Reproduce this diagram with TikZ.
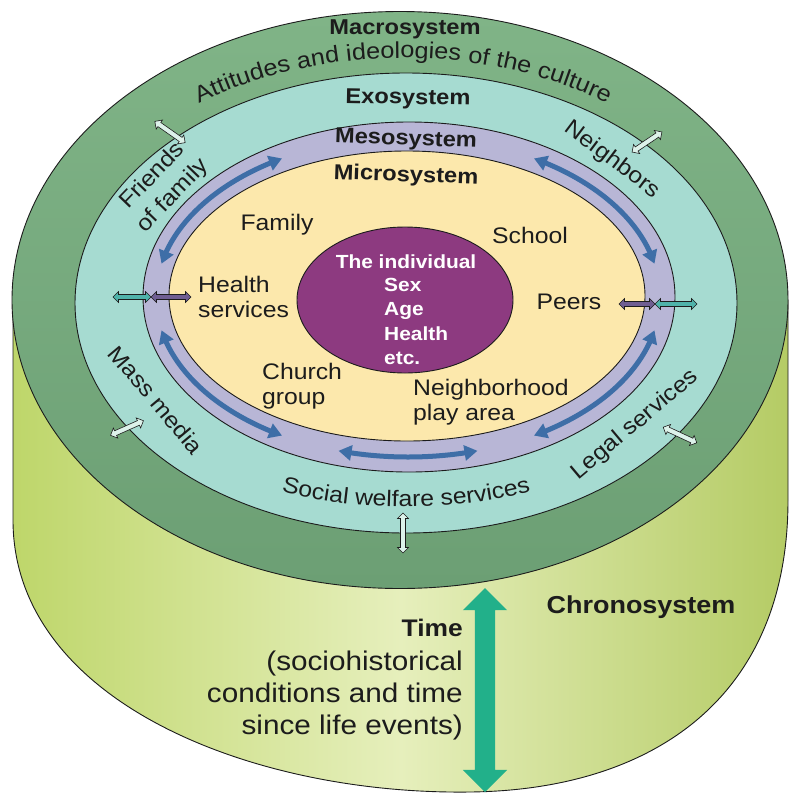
\documentclass[tikz,border=0pt]{standalone}
\usepackage{fontspec}
\setmainfont{Liberation Sans}[FakeStretch=1.1]
\usetikzlibrary{shapes.geometric,shapes.arrows,arrows.meta,bending,decorations.text,calc}

\definecolor{macrog}{HTML}{80B487}
\definecolor{macrod}{HTML}{6C9F74}
\definecolor{exoc}{HTML}{A6DBD1}
\definecolor{mesoc}{HTML}{B8B6D6}
\definecolor{microc}{HTML}{FCE8AC}
\definecolor{indiv}{HTML}{8D3A80}
\definecolor{limec}{HTML}{BED66A}
\definecolor{limel}{HTML}{E6EFBC}
\definecolor{mesoarrow}{HTML}{3E6EA7}
\definecolor{timearrow}{HTML}{22B08A}
\definecolor{inkc}{HTML}{1C1C1C}
\definecolor{tealarrow}{HTML}{4FB3AA}
\definecolor{purparrow}{HTML}{6F5E92}
\definecolor{palearrow}{HTML}{DDF2EA}

\newcommand{\RegLbl}{\fontsize{22.5}{24.5}\selectfont}
\newcommand{\ArcLbl}{\fontsize{23}{27}\selectfont}
\newcommand{\BoldLbl}{\fontsize{21.5}{25}\selectfont\bfseries}
\newcommand{\IndFont}{\fontsize{19}{24.3}\selectfont\bfseries}
\newcommand{\ChronoFont}{\fontsize{24.5}{29}\selectfont\bfseries}
\newcommand{\TimeFont}{\fontsize{27}{32}\selectfont}

\begin{document}
\begin{tikzpicture}[x=1pt,y=1pt,
  ring/.style={ellipse, draw=inkc, line width=0.9pt, inner sep=0pt, outer sep=0pt},
  lbl/.style={text=inkc, font=\RegLbl, inner sep=0pt},
  blbl/.style={text=inkc, font=\BoldLbl, inner sep=0pt},
  mesoarc/.style={draw=mesoarrow, line width=5pt,
     {Triangle[width=15pt,length=13pt]}-{Triangle[width=15pt,length=13pt]}},
  smallarrow/.style={double arrow, draw=inkc, line width=0.6pt, inner sep=2.2pt,
     double arrow head extend=3pt, minimum height=#1}
]
\useasboundingbox (0,0) rectangle (790,-793);

% cylinder body (chronosystem)
\shadedraw[left color=limec, right color=limec!95!black, middle color=limel, draw=inkc, line width=0.9pt]
  (13,-300) -- (13,-520) .. controls (13,-700) and (250,-795) .. (470,-792)
  .. controls (650,-790) and (788,-700) .. (788,-500) -- (788,-300) -- cycle;

% rings
\node[ring, top color=macrog, bottom color=macrod, minimum width=776pt, minimum height=577pt] (macro) at (400,-300) {};
\node[ring, fill=exoc, minimum width=662pt, minimum height=460pt] (exo) at (406,-303) {};
\node[ring, fill=mesoc, minimum width=532pt, minimum height=350pt] (meso) at (409,-297) {};
\node[ring, fill=microc, minimum width=476pt, minimum height=290pt] (micro) at (407,-296) {};
\node[ring, fill=indiv, minimum width=216pt, minimum height=146pt] (indiv) at (405,-300) {};

% mesosystem arrows
\coordinate (mc) at (408,-297);
\foreach \a/\b in {12/60, 120/168, 192/240, 254/286, 300/348}
  \draw[mesoarc] ($(mc)+(\a:252 and 160)$) arc[start angle=\a, end angle=\b, x radius=252pt, y radius=160pt];

% small double arrows
\node[smallarrow=38pt, fill=tealarrow] (hsA) at (132,-297) {};
\node[smallarrow=40pt, fill=purparrow] (hsB) at (171,-297) {};
\node[smallarrow=36pt, fill=purparrow] (peA) at (637,-304) {};
\node[smallarrow=42pt, fill=tealarrow] (peB) at (676,-304) {};
\node[smallarrow=37pt, fill=palearrow, rotate=-35] (ffA) at (170,-132) {};
\node[smallarrow=36pt, fill=palearrow, rotate=34] (nbA) at (647,-142) {};
\node[smallarrow=36pt, fill=palearrow, rotate=24] (mmA) at (127,-428) {};
\node[smallarrow=37pt, fill=palearrow, rotate=-25] (lsA) at (680,-435) {};
\node[smallarrow=40pt, fill=palearrow, rotate=90] (swA) at (403,-533) {};

% time arrow
\node[double arrow, fill=timearrow, inner sep=10pt, double arrow head extend=12pt,
      double arrow tip angle=90, minimum height=204pt, rotate=90] (timeA) at (485,-690) {};

% system titles
\node[blbl] (macroT) at (405,-29) {Macrosystem};
\coordinate (ac) at (403,-301);
\path[decorate, decoration={text along path, text align=center,
   text={|\ArcLbl\color{inkc}|Attitudes and ideologies of the culture}}]
   ($(ac)+(145:350 and 243)$) arc[start angle=145, end angle=35, x radius=350pt, y radius=243pt];
\node[blbl, rotate=-1] (exoT) at (408,-99) {Exosystem};
\node[blbl, rotate=-2] (mesoT) at (406,-140) {Mesosystem};
\node[blbl, rotate=-2] (microT) at (406,-176) {Microsystem};

% microsystem labels
\node[lbl] (family) at (277,-225) {Family};
\node[lbl] (school) at (530,-235) {School};
\node[lbl] (peers) at (569,-302) {Peers};
\node[lbl, anchor=west, align=left] (health) at (198,-297) {Health\\services};
\node[lbl, anchor=west, align=left] (church) at (262,-386) {Church\\group};
\node[lbl, anchor=west, align=left] (neigh) at (413,-402) {Neighborhood\\play area};

% individual
\node[font=\IndFont, text=white, inner sep=0pt] (indT) at (406,-262) {The individual};
\node[font=\IndFont, text=white, inner sep=0pt, anchor=north west, align=left] (indL) at (384,-278) {Sex\\Age\\Health\\etc.};

% exosystem labels
\node[lbl, rotate=46, align=center] (friends) at (163,-186) {Friends\\[4pt]of family};
\node[lbl, rotate=-37] (neighbors) at (612,-160) {Neighbors};
\node[lbl, rotate=-50] (massmedia) at (156,-400) {Mass media};
\node[lbl, rotate=40] (legal) at (635,-425) {Legal services};
\coordinate (sc) at (406,-300);
\path[decorate, decoration={text along path, text align=center,
   text={|\RegLbl\color{inkc}|Social welfare services}}]
   ($(sc)+(230:330 and 207)$) arc[start angle=230, end angle=310, x radius=330pt, y radius=207pt];

% chronosystem
\node[font=\ChronoFont, text=inkc, inner sep=0pt] (chrono) at (641,-607) {Chronosystem};
\node[font=\TimeFont, text=inkc, inner sep=0pt, align=right, anchor=north east] (timeT) at (463,-619)
  {{\fontsize{24}{32}\selectfont\bfseries Time}\\[2pt](sociohistorical\\conditions and time\\since life events)};
\end{tikzpicture}
\end{document}
